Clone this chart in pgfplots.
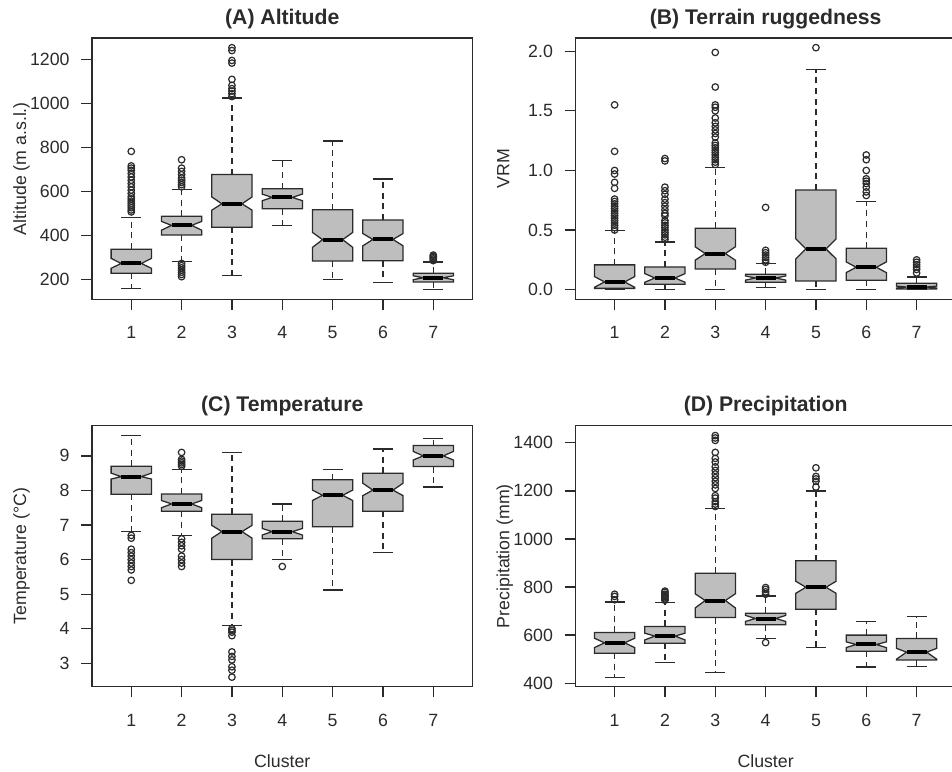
\documentclass[border=0pt]{standalone}
\usepackage{fontspec}
\setmainfont{Liberation Sans}
\usepackage{pgfplots}
\pgfplotsset{compat=1.18}

\definecolor{boxfill}{HTML}{BEBEBE}
\definecolor{ink}{HTML}{2B2B2B}

\pgfplotsset{
  nb/.style={draw=ink, fill=boxfill, line width=0.95pt, line join=miter, mark=none},
  med/.style={draw=black, line width=3pt, mark=none},
  whi/.style={draw=ink, line width=0.9pt, dash pattern=on 4.5pt off 3.5pt, mark=none},
  cap/.style={draw=ink, line width=0.95pt, mark=none},
  outl/.style={only marks, mark=o, mark size=2.45pt, mark options={line width=0.9pt, draw=ink}},
  panel/.style={
    scale only axis, width=285.4pt, height=196pt, anchor=south west,
    xmin=0.22, xmax=7.78, xtick={1,...,7},
    tick pos=left, tick align=outside, major tick length=8pt,
    axis line style={ink, line width=0.95pt},
    every tick/.style={ink, line width=0.95pt},
    tick label style={font=\fontsize{13.3}{15}\selectfont, text=ink},
    xticklabel style={text height=9.7pt, yshift=-8.2pt},
    yticklabel style={xshift=-5.3pt},
    /pgf/number format/assume math mode=true,
    /pgf/number format/1000 sep={},
    every axis title/.style={at={(0.5,1)}, anchor=base, yshift=10.3pt,
      font=\fontsize{15.9}{18}\selectfont\bfseries, text=ink},
    every axis y label/.style={at={(axis description cs:-0.1734,0.5)}, rotate=90, anchor=base,
      font=\fontsize{13.3}{15}\selectfont, text=ink},
    every axis x label/.style={at={(axis description cs:0.5,-0.31)}, anchor=base,
      font=\fontsize{13.3}{15}\selectfont, text=ink},
  },
}

% notched box: x, whisker low, Q1, notch low, median, notch high, Q3, whisker high
\newcommand\nbox[8]{%
  \pgfmathsetmacro\xa{#1-0.4}\pgfmathsetmacro\xb{#1+0.4}%
  \pgfmathsetmacro\xc{#1-0.2}\pgfmathsetmacro\xd{#1+0.2}%
  \addplot[whi] coordinates {(#1,#7) (#1,#8)};
  \addplot[whi] coordinates {(#1,#3) (#1,#2)};
  \addplot[cap] coordinates {(\xc,#8) (\xd,#8)};
  \addplot[cap] coordinates {(\xc,#2) (\xd,#2)};
  \addplot[nb] coordinates {(\xa,#3) (\xa,#4) (\xc,#5) (\xa,#6) (\xa,#7) (\xb,#7) (\xb,#6) (\xd,#5) (\xb,#4) (\xb,#3)} --cycle;
  \addplot[med] coordinates {(\xc,#5) (\xd,#5)};
}

\begin{document}
\begin{tikzpicture}
% (A) Altitude
\begin{axis}[panel, at={(69pt,-224.5pt)},
  ymin=109, ymax=1296, ytick={200,400,...,1200},
  title={(A) Altitude}, ylabel={Altitude (m a.s.l.)}]
\nbox{1}{157}{227}{250}{272}{295}{337}{482}
\nbox{2}{281}{401}{423}{445}{463}{486}{608}
\nbox{3}{218}{436}{514}{543}{574}{676}{1023}
\nbox{4}{446}{520}{557}{572}{587}{611}{738}
\nbox{5}{198}{283}{345}{380}{413}{516}{828}
\nbox{6}{186}{284}{352}{381}{408}{469}{655}
\nbox{7}{153}{188}{198}{207}{216}{227}{278}
\addplot[outl] coordinates {(1,506) (1,515) (1,525) (1,535) (1,545) (1,555) (1,565) (1,575) (1,590) (1,605) (1,620) (1,635) (1,650) (1,665) (1,680) (1,695) (1,705) (1,715) (1,781)
  (2,620) (2,630) (2,640) (2,650) (2,660) (2,675) (2,690) (2,705) (2,743)
  (2,272) (2,262) (2,252) (2,242) (2,232) (2,222) (2,212)
  (3,1030) (3,1043) (3,1055) (3,1066) (3,1081) (3,1108) (3,1182) (3,1194) (3,1239) (3,1252)
  (7,285) (7,292) (7,298) (7,304) (7,310)};
\end{axis}

% (B) Terrain ruggedness
\begin{axis}[panel, at={(431.5pt,-224.5pt)},
  ymin=-0.081, ymax=2.111, ytick={0,0.5,...,2},
  yticklabel style={/pgf/number format/.cd, fixed, fixed zerofill, precision=1},
  title={(B) Terrain ruggedness}, ylabel={VRM}]
\nbox{1}{0}{0.011}{0.02}{0.065}{0.11}{0.208}{0.494}
\nbox{2}{0}{0.045}{0.062}{0.098}{0.135}{0.191}{0.401}
\nbox{3}{0}{0.174}{0.247}{0.303}{0.36}{0.516}{1.027}
\nbox{4}{0.017}{0.062}{0.08}{0.098}{0.115}{0.129}{0.219}
\nbox{5}{0}{0.073}{0.258}{0.342}{0.426}{0.836}{1.848}
\nbox{6}{0}{0.079}{0.143}{0.188}{0.233}{0.348}{0.738}
\nbox{7}{0}{0.006}{0.014}{0.022}{0.03}{0.053}{0.107}
\addplot[outl] coordinates {(1,0.50) (1,0.52) (1,0.54) (1,0.56) (1,0.58) (1,0.60) (1,0.62) (1,0.64) (1,0.66) (1,0.68) (1,0.70) (1,0.72) (1,0.74) (1,0.76) (1,0.85) (1,0.90) (1,0.97) (1,1.00) (1,1.16) (1,1.55)
  (2,0.42) (2,0.44) (2,0.46) (2,0.48) (2,0.50) (2,0.52) (2,0.54) (2,0.56) (2,0.58) (2,0.62) (2,0.64) (2,0.67) (2,0.70) (2,0.73) (2,0.76) (2,0.80) (2,0.83) (2,0.86) (2,1.08) (2,1.10)
  (3,1.05) (3,1.07) (3,1.09) (3,1.11) (3,1.13) (3,1.15) (3,1.17) (3,1.19) (3,1.21) (3,1.23) (3,1.28) (3,1.31) (3,1.34) (3,1.37) (3,1.40) (3,1.44) (3,1.50) (3,1.53) (3,1.55) (3,1.70) (3,1.99)
  (4,0.23) (4,0.25) (4,0.27) (4,0.29) (4,0.31) (4,0.33) (4,0.69)
  (5,2.03)
  (6,0.79) (6,0.82) (6,0.86) (6,0.89) (6,0.91) (6,0.93) (6,1.00) (6,1.09) (6,1.13)
  (7,0.14) (7,0.17) (7,0.19) (7,0.21) (7,0.23) (7,0.25)};
\end{axis}

% (C) Temperature
\begin{axis}[panel, at={(69pt,-515.1pt)},
  ymin=2.32, ymax=9.88, ytick={3,...,9},
  title={(C) Temperature}, ylabel={Temperature (°C)}, xlabel={Cluster}]
\nbox{1}{6.81}{7.89}{8.33}{8.40}{8.50}{8.70}{9.60}
\nbox{2}{6.70}{7.40}{7.50}{7.61}{7.71}{7.90}{8.61}
\nbox{3}{4.10}{6.00}{6.62}{6.81}{6.99}{7.31}{9.10}
\nbox{4}{6.00}{6.60}{6.71}{6.81}{6.90}{7.11}{7.61}
\nbox{5}{5.12}{6.95}{7.71}{7.86}{8.01}{8.31}{8.61}
\nbox{6}{6.20}{7.40}{7.85}{8.01}{8.21}{8.50}{9.20}
\nbox{7}{8.10}{8.69}{8.88}{9.00}{9.13}{9.30}{9.50}
\addplot[outl] coordinates {(1,6.70) (1,6.62) (1,6.30) (1,6.20) (1,6.10) (1,6.00) (1,5.90) (1,5.80) (1,5.70) (1,5.40)
  (2,9.10) (2,8.90) (2,8.85) (2,8.80) (2,8.75) (2,8.70)
  (2,6.60) (2,6.50) (2,6.40) (2,6.30) (2,6.10) (2,6.00) (2,5.90) (2,5.80)
  (3,4.00) (3,3.95) (3,3.90) (3,3.80) (3,3.33) (3,3.20) (3,3.10) (3,2.90) (3,2.80) (3,2.60)
  (4,5.80)};
\end{axis}

% (D) Precipitation
\begin{axis}[panel, at={(431.5pt,-515.1pt)},
  ymin=385, ymax=1472, ytick={400,600,...,1400},
  title={(D) Precipitation}, ylabel={Precipitation (mm)}, xlabel={Cluster}]
\nbox{1}{425}{525}{548}{568}{587}{611}{738}
\nbox{2}{486}{566}{580}{596}{608}{636}{736}
\nbox{3}{446}{673}{713}{744}{772}{857}{1127}
\nbox{4}{586}{643}{657}{669}{682}{691}{763}
\nbox{5}{550}{708}{774}{799}{824}{909}{1200}
\nbox{6}{467}{533}{548}{561}{572}{600}{657}
\nbox{7}{469}{497}{500}{529}{545}{586}{677}
\addplot[outl] coordinates {(1,747) (1,761) (1,770)
  (2,745) (2,750) (2,755) (2,760) (2,765) (2,770) (2,778) (2,783)
  (3,1135) (3,1145) (3,1155) (3,1170) (3,1180) (3,1210) (3,1225) (3,1240) (3,1255) (3,1270) (3,1285) (3,1300) (3,1320) (3,1335) (3,1360) (3,1410) (3,1420) (3,1430)
  (4,770) (4,780) (4,790) (4,798) (4,569)
  (5,1216) (5,1240) (5,1250) (5,1260) (5,1296)};
\end{axis}
\pgfresetboundingbox
\path[use as bounding box] (0pt,0pt) rectangle (714pt,-578.25pt);
\end{tikzpicture}
\end{document}
